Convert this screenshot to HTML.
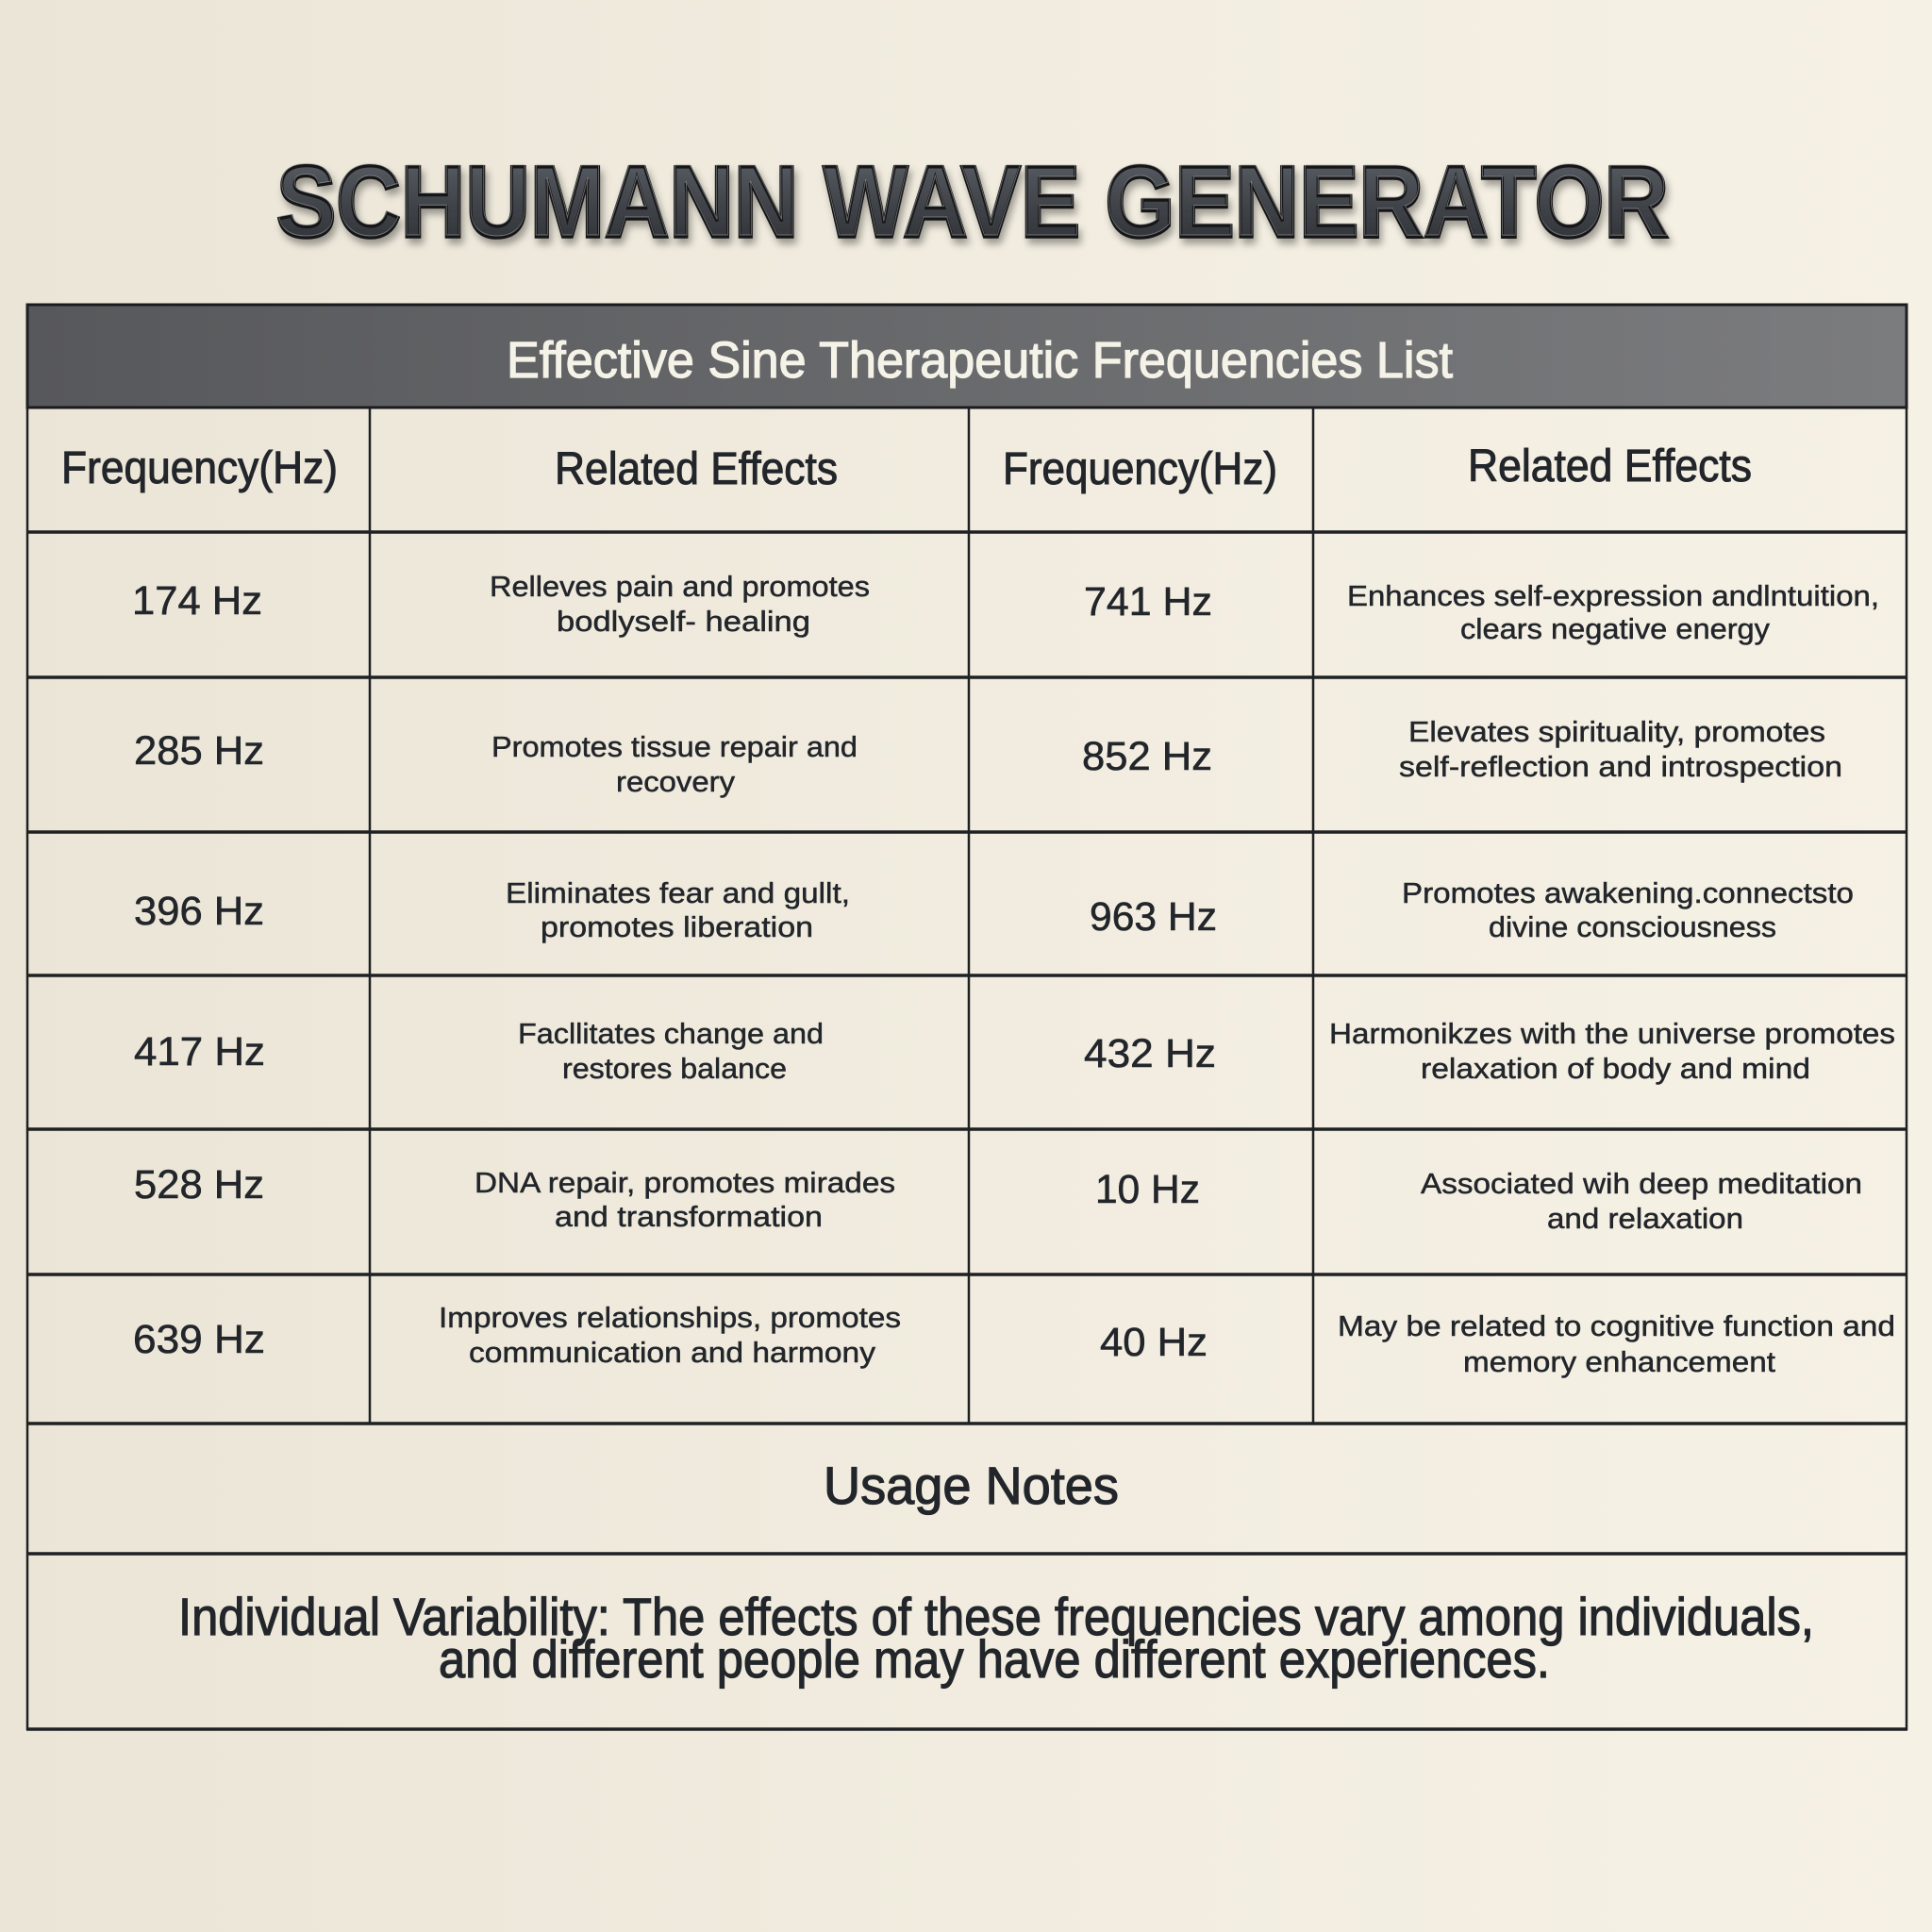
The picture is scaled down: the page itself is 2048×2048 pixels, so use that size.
<!DOCTYPE html>
<html><head><meta charset="utf-8"><style>
html,body{margin:0;padding:0;width:2048px;height:2048px;overflow:hidden;background:#f0ebdf;}
svg{display:block}
text{font-family:"Liberation Sans",sans-serif;}
</style></head><body>
<svg width="2048" height="2048" viewBox="0 0 2048 2048" xmlns="http://www.w3.org/2000/svg">
<defs>
<linearGradient id="bg" x1="0" y1="0" x2="1" y2="0">
<stop offset="0" stop-color="#ebe5d7"/><stop offset="0.5" stop-color="#f1ecdf"/><stop offset="1" stop-color="#f6f1e5"/>
</linearGradient>
<linearGradient id="bar" x1="0" x2="1" y1="0" y2="0"><stop offset="0" stop-color="#57585b"/><stop offset="1" stop-color="#7b7c7e"/></linearGradient>
<linearGradient id="tfill" x1="0" y1="0" x2="0" y2="1"><stop offset="0" stop-color="#60646b"/><stop offset="0.5" stop-color="#42454b"/><stop offset="1" stop-color="#2b2d31"/></linearGradient>
<filter id="sh" x="-5%" y="-30%" width="110%" height="170%"><feDropShadow dx="3" dy="6" stdDeviation="4" flood-color="#000" flood-opacity="0.35"/></filter>
</defs>
<rect width="2048" height="2048" fill="url(#bg)"/>

<!-- Title -->
<text x="293" y="251" font-size="108" font-weight="bold" textLength="1476" lengthAdjust="spacingAndGlyphs" fill="url(#tfill)" stroke="#121316" stroke-width="3.5" filter="url(#sh)">SCHUMANN WAVE GENERATOR</text>
<text x="293" y="249" font-size="108" font-weight="bold" textLength="1476" lengthAdjust="spacingAndGlyphs" fill="none" stroke="#9ea2a8" stroke-width="1" opacity="0.6">SCHUMANN WAVE GENERATOR</text>

<!-- Header bar -->
<rect x="29" y="323" width="1992" height="109" fill="url(#bar)" stroke="#1a1b1d" stroke-width="3"/>
<text x="537" y="400" font-size="54" textLength="1003" lengthAdjust="spacingAndGlyphs" fill="#f5f2e8" stroke="#f5f2e8" stroke-width="1.3">Effective Sine Therapeutic Frequencies List</text>

<!-- Grid lines -->
<g stroke="#1e2023" stroke-width="3.5">
<line x1="29" y1="564" x2="2021" y2="564"/>
<line x1="29" y1="718" x2="2021" y2="718"/>
<line x1="29" y1="882" x2="2021" y2="882"/>
<line x1="29" y1="1034" x2="2021" y2="1034"/>
<line x1="29" y1="1197" x2="2021" y2="1197"/>
<line x1="29" y1="1351" x2="2021" y2="1351"/>
<line x1="29" y1="1509" x2="2021" y2="1509"/>
<line x1="29" y1="1647" x2="2021" y2="1647"/>
<line x1="28" y1="1833" x2="2022" y2="1833"/>
</g>
<g stroke="#1e2023" stroke-width="2.5">
<line x1="392" y1="432" x2="392" y2="1509"/>
<line x1="1027" y1="432" x2="1027" y2="1509"/>
<line x1="1392" y1="432" x2="1392" y2="1509"/>
<line x1="29" y1="322" x2="29" y2="1834"/>
<line x1="2021" y1="322" x2="2021" y2="1834"/>
</g>

<!-- Column headers -->
<g fill="#22262b" stroke="#22262b" stroke-width="1" font-size="48">
<text x="65" y="512" textLength="293" lengthAdjust="spacingAndGlyphs">Frequency(Hz)</text>
<text x="588" y="513" textLength="300" lengthAdjust="spacingAndGlyphs">Related Effects</text>
<text x="1063" y="513" textLength="291" lengthAdjust="spacingAndGlyphs">Frequency(Hz)</text>
<text x="1556" y="510" textLength="301" lengthAdjust="spacingAndGlyphs">Related Effects</text>
</g>

<!-- Frequencies -->
<g fill="#22262b" stroke="#22262b" stroke-width="0.6" font-size="43">
<text x="140" y="651" textLength="138" lengthAdjust="spacingAndGlyphs">174 Hz</text>
<text x="142" y="810" textLength="138" lengthAdjust="spacingAndGlyphs">285 Hz</text>
<text x="142" y="980" textLength="138" lengthAdjust="spacingAndGlyphs">396 Hz</text>
<text x="142" y="1129" textLength="139" lengthAdjust="spacingAndGlyphs">417 Hz</text>
<text x="142" y="1270" textLength="138" lengthAdjust="spacingAndGlyphs">528 Hz</text>
<text x="141" y="1434" textLength="140" lengthAdjust="spacingAndGlyphs">639 Hz</text>
<text x="1149" y="652" textLength="136" lengthAdjust="spacingAndGlyphs">741 Hz</text>
<text x="1147" y="816" textLength="138" lengthAdjust="spacingAndGlyphs">852 Hz</text>
<text x="1155" y="986" textLength="135" lengthAdjust="spacingAndGlyphs">963 Hz</text>
<text x="1149" y="1131" textLength="140" lengthAdjust="spacingAndGlyphs">432 Hz</text>
<text x="1161" y="1275" textLength="111" lengthAdjust="spacingAndGlyphs">10 Hz</text>
<text x="1166" y="1437" textLength="114" lengthAdjust="spacingAndGlyphs">40 Hz</text>
</g>

<!-- Descriptions -->
<g fill="#22262b" stroke="#22262b" stroke-width="0.5" font-size="31">
<text x="519" y="632" textLength="403" lengthAdjust="spacingAndGlyphs">Relleves pain and promotes</text>
<text x="590" y="669" textLength="269" lengthAdjust="spacingAndGlyphs">bodlyself- healing</text>
<text x="1428" y="642" textLength="564" lengthAdjust="spacingAndGlyphs">Enhances self-expression andlntuition,</text>
<text x="1548" y="677" textLength="328" lengthAdjust="spacingAndGlyphs">clears negative energy</text>

<text x="521" y="802" textLength="388" lengthAdjust="spacingAndGlyphs">Promotes tissue repair and</text>
<text x="653" y="839" textLength="126" lengthAdjust="spacingAndGlyphs">recovery</text>
<text x="1493" y="786" textLength="442" lengthAdjust="spacingAndGlyphs">Elevates spirituality, promotes</text>
<text x="1483" y="823" textLength="470" lengthAdjust="spacingAndGlyphs">self-reflection and introspection</text>

<text x="536" y="957" textLength="365" lengthAdjust="spacingAndGlyphs">Eliminates fear and gullt,</text>
<text x="573" y="993" textLength="289" lengthAdjust="spacingAndGlyphs">promotes liberation</text>
<text x="1486" y="957" textLength="479" lengthAdjust="spacingAndGlyphs">Promotes awakening.connectsto</text>
<text x="1578" y="993" textLength="305" lengthAdjust="spacingAndGlyphs">divine consciousness</text>

<text x="549" y="1106" textLength="324" lengthAdjust="spacingAndGlyphs">Facllitates change and</text>
<text x="596" y="1143" textLength="238" lengthAdjust="spacingAndGlyphs">restores balance</text>
<text x="1409" y="1106" textLength="600" lengthAdjust="spacingAndGlyphs">Harmonikzes with the universe promotes</text>
<text x="1506" y="1143" textLength="413" lengthAdjust="spacingAndGlyphs">relaxation of body and mind</text>

<text x="503" y="1264" textLength="446" lengthAdjust="spacingAndGlyphs">DNA repair, promotes mirades</text>
<text x="588" y="1300" textLength="284" lengthAdjust="spacingAndGlyphs">and transformation</text>
<text x="1506" y="1265" textLength="468" lengthAdjust="spacingAndGlyphs">Associated wih deep meditation</text>
<text x="1640" y="1302" textLength="208" lengthAdjust="spacingAndGlyphs">and relaxation</text>

<text x="465" y="1407" textLength="490" lengthAdjust="spacingAndGlyphs">Improves relationships, promotes</text>
<text x="497" y="1444" textLength="431" lengthAdjust="spacingAndGlyphs">communication and harmony</text>
<text x="1418" y="1416" textLength="591" lengthAdjust="spacingAndGlyphs">May be related to cognitive function and</text>
<text x="1551" y="1454" textLength="331" lengthAdjust="spacingAndGlyphs">memory enhancement</text>
</g>

<!-- Usage notes -->
<g fill="#22262b" stroke="#22262b" stroke-width="1.2" font-size="56">
<text x="873" y="1594" textLength="313" lengthAdjust="spacingAndGlyphs">Usage Notes</text>
<text x="189" y="1733" textLength="1734" lengthAdjust="spacingAndGlyphs">Individual Variability: The effects of these frequencies vary among individuals,</text>
<text x="465" y="1778" textLength="1178" lengthAdjust="spacingAndGlyphs">and different people may have different experiences.</text>
</g>
</svg>
</body></html>
